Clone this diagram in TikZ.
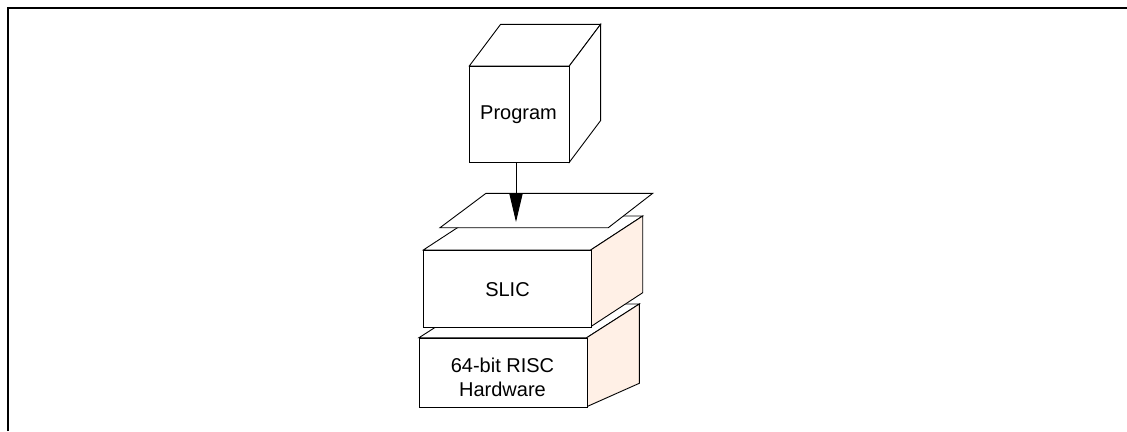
\documentclass[tikz,border=0pt]{standalone}
\usepackage{fontspec}
\setmainfont{Liberation Sans}
\usetikzlibrary{arrows.meta}
\definecolor{sideface}{HTML}{FFF0E6}
\begin{document}
\begin{tikzpicture}[x=1pt,y=-1pt,
  edge/.style={draw=black,line width=0.9pt,line join=miter},
  face/.style={edge,fill=white},
  side/.style={edge,fill=sideface},
  front/.style={edge,fill=white,minimum width=#1,inner sep=0pt,anchor=north west},
  lbl/.style={font=\fontsize{20}{24}\selectfont,align=center},
  frame/.style={draw=black,line width=1.2pt}]
\useasboundingbox (0,0) rectangle (1127,431);
% frame
\draw[frame] (8,431) -- (8,8) -- (1127,8);
% Hardware box
\path[face] (419,337.7) -- (471.7,304) -- (639.3,304) -- (586.7,337.7) -- cycle;
\path[side] (586.7,337.7) -- (639.3,304) -- (639.3,383.3) -- (586.7,406.7) -- cycle;
\node[front=167.7pt,minimum height=69pt] (hw) at (419,337.7) {};
\node[lbl] (hwt) at (502.5,377) {64-bit RISC\\Hardware};
% SLIC box
\path[face] (423.3,250) -- (475.3,216) -- (642.7,216) -- (590.7,250) -- cycle;
\path[side] (590.7,250) -- (642.7,216) -- (642.7,292.7) -- (590.7,326.7) -- cycle;
\node[front=167.4pt,minimum height=76.7pt] (slic) at (423.3,250) {};
\node[lbl] (slict) at (507.5,290) {SLIC};
% plane
\path[face] (440,227.7) -- (486,193.3) -- (652.7,193.3) -- (608.3,227.7) -- cycle;
\coordinate (planehit) at (516,222);
% Program cube
\path[face] (469.3,66) -- (500.6,24.3) -- (600.6,24.3) -- (569.3,66) -- cycle;
\path[face] (569.3,66) -- (600.6,24.3) -- (600.6,120.6) -- (569.3,162.3) -- cycle;
\node[front=100pt,minimum height=96.3pt] (prog) at (469.3,66) {};
\node[lbl] (progt) at (518.5,115) {Program};
% arrow
\draw[line width=0.9pt,-{Triangle[length=28pt,width=13pt]}] (prog.south -| planehit) -- (planehit);
\end{tikzpicture}
\end{document}
